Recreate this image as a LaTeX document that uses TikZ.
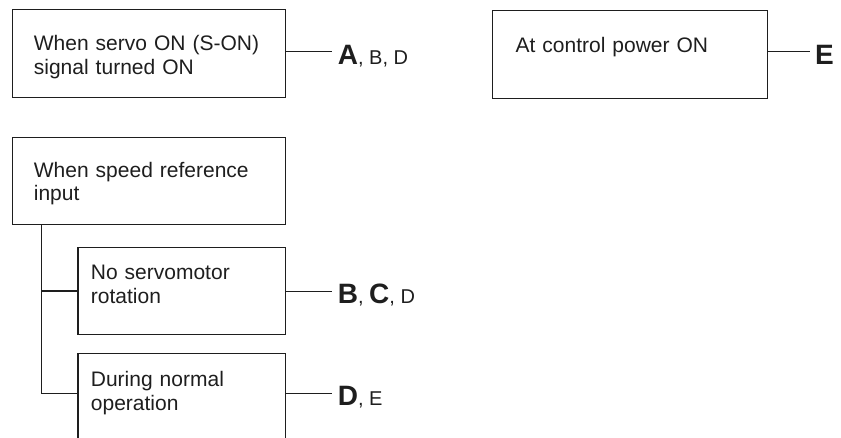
\documentclass[tikz,border=0pt]{standalone}
\usepackage{fontspec}
\setmainfont{Liberation Sans}
\usetikzlibrary{positioning}
\definecolor{ink}{HTML}{1E1E1E}
\newcommand\condfont{\fontsize{21}{23.5}\selectfont}
\newcommand\keyfont{\fontsize{20}{21}\selectfont}
\newcommand\keybig[1]{{\fontsize{28}{29}\selectfont\bfseries #1}}
\tikzset{
  cond/.style={draw=ink,line width=1.2pt,anchor=north west,inner ysep=0pt,align=left,font=\condfont,text=ink},
  link/.style={draw=ink,line width=1.2pt},
  key/.style={anchor=base west,inner sep=0pt,font=\keyfont,text=ink}
}

\begin{document}
\begin{tikzpicture}[x=1pt,y=-1pt]
  \useasboundingbox (0,0) rectangle (841,438);
  \clip (0,0) rectangle (841,438);

  \node[cond,inner xsep=21.6pt,text width=230.1pt,text height=40.7pt,text depth=47.3pt]
    (servo) at (11.7,9.3) {When servo ON (S-ON)\\signal turned ON};
  \node[cond,inner xsep=23.3pt,text width=228.4pt,text height=41.7pt,text depth=46pt]
    (power) at (491.7,10) {At control power ON};
  \node[cond,inner xsep=21.6pt,text width=230.1pt,text height=39.2pt,text depth=47.8pt]
    (speed) at (11.7,137.3) {When speed reference\\input};
  \node[cond,inner xsep=13pt,text width=181.2pt,text height=32.3pt,text depth=55pt]
    (stopped) at (77.3,246.7) {No servomotor\\rotation};
  \node[cond,inner xsep=13pt,text width=181.2pt,text height=33.3pt,text depth=55pt]
    (running) at (77.3,352.7) {During normal\\operation};

  \coordinate (endA) at (331.7,51.7);
  \coordinate (endE) at (810,51.7);
  \coordinate (endB) at (331.7,291.5);
  \coordinate (endD) at (331.7,393.5);
  \coordinate (trunk) at ([xshift=30pt]speed.south west);

  \node[key] (keyA) at ([shift={(6,12.5)}]endA) {\keybig{A}, B, D};
  \node[key] (keyE) at ([shift={(5,12.5)}]endE) {\keybig{E}};
  \node[key] (keyB) at ([shift={(6,12.5)}]endB) {\keybig{B}, \keybig{C}, D};
  \node[key] (keyD) at ([shift={(6,12.5)}]endD) {\keybig{D}, E};

  \draw[link] (servo.east |- endA) -- (endA);
  \draw[link] (power.east |- endE) -- (endE);
  \draw[link] (stopped.east |- endB) -- (endB);
  \draw[link] (running.east |- endD) -- (endD);
  \draw[link] (trunk) |- (running.west |- endD);
  \draw[link] (trunk |- stopped.west) -- (stopped.west);
\end{tikzpicture}
\end{document}
